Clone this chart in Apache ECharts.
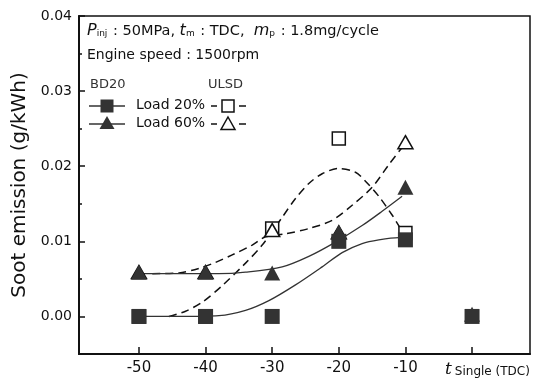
<!DOCTYPE html>
<html>
<head>
<meta charset="utf-8">
<script src="https://cdn.jsdelivr.net/npm/echarts@6/dist/echarts.min.js"></script>
<style>
  html, body { margin: 0; padding: 0; background: #fff; }
  #main { width: 533px; height: 379px; }
</style>
</head>
<body>
<div id="main"></div>
<script>
// injection timing (deg, TDC = 0 is the single injection case)
var timings = [-50, -40, -30, -20, -10, 0];
// measured points
var bd20Load20 = [0, 0, 0, 0.0100, 0.0102, 0];
var bd20Load60 = [0.0059, 0.0059, 0.0058, 0.0112, 0.0172, 0.0003];
var ulsdLoad20 = [0, 0, 0.0117, 0.0237, 0.0111, null];
var ulsdLoad60 = [0.0059, 0.0059, 0.0115, 0.0112, 0.0232, null];

// fitted trend curves
var fitBd20Load20 = [[-50, 0], [-44, 0], [-38, 0.0001], [-34, 0.0008], [-30.5, 0.0021], [-26.5, 0.0042],
  [-22.5, 0.0066], [-19.5, 0.0085], [-16.5, 0.0097], [-14, 0.0102], [-11, 0.0105], [-10, 0.0105]];
var fitBd20Load60 = [[-50, 0.0057], [-44, 0.0057], [-38, 0.0057], [-34, 0.0059], [-28.5, 0.0066],
  [-24.5, 0.0080], [-20.5, 0.0099], [-16.5, 0.0121], [-13.5, 0.0140], [-10.5, 0.0160]];
var fitUlsdLoad20 = [[-45.5, 0], [-43, 0.0007], [-40.5, 0.0019], [-37.5, 0.0041], [-34, 0.0071],
  [-31.5, 0.0095], [-28.5, 0.0132], [-26.5, 0.0157], [-24.5, 0.0177], [-22.5, 0.0190], [-20, 0.0197],
  [-17.5, 0.0192], [-16, 0.0180], [-14, 0.0160], [-12, 0.0135], [-10.8, 0.0118]];
var fitUlsdLoad60 = [[-48, 0.0057], [-44, 0.0058], [-41, 0.0064], [-38.5, 0.0072], [-36, 0.0082],
  [-33, 0.0095], [-31, 0.0106], [-28, 0.0110], [-24.5, 0.0117], [-21, 0.0128], [-18, 0.0148],
  [-15, 0.0172], [-12.5, 0.0202], [-10.5, 0.0225]];

var yLabels = [0, 0.01, 0.02, 0.03, 0.04];
var yMinor = [0.005, 0.015, 0.025, 0.035];
var xLabels = [-50, -40, -30, -20, -10];

function pairs(ys) {
  var res = [];
  for (var i = 0; i < timings.length; i++) {
    if (ys[i] == null) continue;
    res.push([timings[i], ys[i]]);
  }
  return res;
}

var dark = '#333';
var font = 'DejaVu Sans';

var dom = document.getElementById('main');
var myChart = echarts.init(dom, null, { renderer: 'canvas' });

var fitLine = function (data, dashed) {
  return {
    type: 'line', data: data, smooth: 0.3, symbol: 'none', silent: true, z: 1,
    lineStyle: dashed ? { color: '#111', width: 1.5, type: [8, 5] } : { color: dark, width: 1.3 }
  };
};

var option = {
  animation: false,
  backgroundColor: '#fff',
  grid: { left: 79, right: 3, top: 16, bottom: 25, show: true, borderColor: '#111', borderWidth: 1.5 },
  xAxis: {
    type: 'value', min: -59, max: 8.7,
    axisLine: { onZero: false, lineStyle: { color: '#111', width: 2 } },
    axisTick: { inside: true, length: 7, customValues: timings, lineStyle: { color: '#111', width: 1.5 } },
    axisLabel: { customValues: xLabels, color: '#111', fontFamily: font, fontSize: 15, margin: 7 },
    splitLine: { show: false }
  },
  yAxis: [{
    type: 'value', min: -0.005, max: 0.04, position: 'left', offset: 0,
    name: 'Soot emission (g/kWh)', nameLocation: 'middle', nameGap: 47,
    nameTextStyle: { fontFamily: font, fontSize: 20, color: '#111' },
    axisLine: { onZero: false, lineStyle: { color: '#111', width: 2 } },
    axisTick: { inside: true, length: 6, customValues: yLabels, lineStyle: { color: '#111', width: 1.5 } },
    axisLabel: {
      customValues: yLabels, color: '#111', fontFamily: font, fontSize: 14, margin: 7,
      formatter: function (v) { return v.toFixed(2); }
    },
    splitLine: { show: false }
  }, {
    type: 'value', min: -0.005, max: 0.04, position: 'left', offset: 0,
    axisLine: { show: false, onZero: false },
    axisTick: { inside: true, length: 3, customValues: yMinor, lineStyle: { color: '#111', width: 1.5 } },
    axisLabel: { show: false },
    splitLine: { show: false }
  }],
  series: [
    fitLine(fitUlsdLoad20, true),
    fitLine(fitUlsdLoad60, true),
    fitLine(fitBd20Load20, false),
    fitLine(fitBd20Load60, false),
    {
      name: 'ULSD Load 20%', type: 'scatter', data: pairs(ulsdLoad20), symbol: 'rect', symbolSize: 13, z: 3,
      itemStyle: { color: '#fff', borderColor: '#111', borderWidth: 1.5, opacity: 1 }
    },
    {
      name: 'ULSD Load 60%', type: 'scatter', data: pairs(ulsdLoad60), symbol: 'triangle', symbolSize: [15, 13], z: 3,
      itemStyle: { color: '#fff', borderColor: '#111', borderWidth: 1.5, opacity: 1 }
    },
    {
      name: 'BD20 Load 60%', type: 'scatter', data: pairs(bd20Load60), symbol: 'triangle', symbolSize: [16, 15], z: 4,
      itemStyle: { color: dark, opacity: 1 }
    },
    {
      name: 'BD20 Load 20%', type: 'scatter', data: pairs(bd20Load20), symbol: 'rect', symbolSize: 15, z: 4,
      itemStyle: { color: dark, opacity: 1 }
    }
  ],
  graphic: [
    {
      type: 'text', left: 87, top: 23, z: 10,
      style: {
        text: '{i|P}{s|inj} : 50MPa, {i|t}{s|m} : TDC,  {i|m}{s|p} : 1.8mg/cycle',
        fontFamily: font, fontSize: 14.5, fill: '#111',
        rich: {
          i: { fontStyle: 'italic', fontSize: 16, fontFamily: font, fill: '#111' },
          s: { fontSize: 9, fontFamily: font, fill: '#111', padding: [6, 1, 0, 0] }
        }
      }
    },
    { type: 'text', left: 87, top: 48, z: 10, style: { text: 'Engine speed : 1500rpm', fontFamily: font, fontSize: 14, fill: '#111' } },
    { type: 'text', left: 90, top: 78, z: 10, style: { text: 'BD20', fontFamily: font, fontSize: 13, fill: '#333' } },
    { type: 'text', left: 208, top: 78, z: 10, style: { text: 'ULSD', fontFamily: font, fontSize: 13, fill: '#333' } },
    { type: 'text', left: 136, top: 98, z: 10, style: { text: 'Load 20%', fontFamily: font, fontSize: 14, fill: '#111' } },
    { type: 'text', left: 136, top: 116, z: 10, style: { text: 'Load 60%', fontFamily: font, fontSize: 14, fill: '#111' } },
    // legend keys BD20
    { type: 'line', z: 10, shape: { x1: 89, y1: 106, x2: 125, y2: 106 }, style: { stroke: dark, lineWidth: 1.3 } },
    { type: 'rect', z: 11, shape: { x: 100.5, y: 99.5, width: 13, height: 13 }, style: { fill: dark } },
    { type: 'line', z: 10, shape: { x1: 89, y1: 124, x2: 125, y2: 124 }, style: { stroke: dark, lineWidth: 1.3 } },
    { type: 'polygon', z: 11, shape: { points: [[107, 116], [114.5, 129], [99.5, 129]] }, style: { fill: dark } },
    // legend keys ULSD
    { type: 'line', z: 10, shape: { x1: 211, y1: 106, x2: 217, y2: 106 }, style: { stroke: '#111', lineWidth: 1.5 } },
    { type: 'rect', z: 11, shape: { x: 222, y: 100, width: 12, height: 12 }, style: { fill: '#fff', stroke: '#111', lineWidth: 1.5 } },
    { type: 'line', z: 10, shape: { x1: 239, y1: 106, x2: 246, y2: 106 }, style: { stroke: '#111', lineWidth: 1.5 } },
    { type: 'line', z: 10, shape: { x1: 211, y1: 124, x2: 217, y2: 124 }, style: { stroke: '#111', lineWidth: 1.5 } },
    { type: 'polygon', z: 11, shape: { points: [[228, 117], [235, 129.5], [221, 129.5]] }, style: { fill: '#fff', stroke: '#111', lineWidth: 1.5 } },
    { type: 'line', z: 10, shape: { x1: 239, y1: 124, x2: 246, y2: 124 }, style: { stroke: '#111', lineWidth: 1.5 } },
    // label for the single-injection tick
    {
      type: 'text', left: 445, top: 361, z: 10,
      style: {
        text: '{i|t}{s|Single (TDC)}', fontFamily: font, fill: '#111',
        rich: {
          i: { fontStyle: 'italic', fontSize: 17, fontFamily: 'DejaVu Serif', fill: '#111' },
          s: { fontSize: 12, fontFamily: font, fill: '#111', padding: [4, 0, 0, 3] }
        }
      }
    }
  ]
};

myChart.setOption(option);
</script>
</body>
</html>
